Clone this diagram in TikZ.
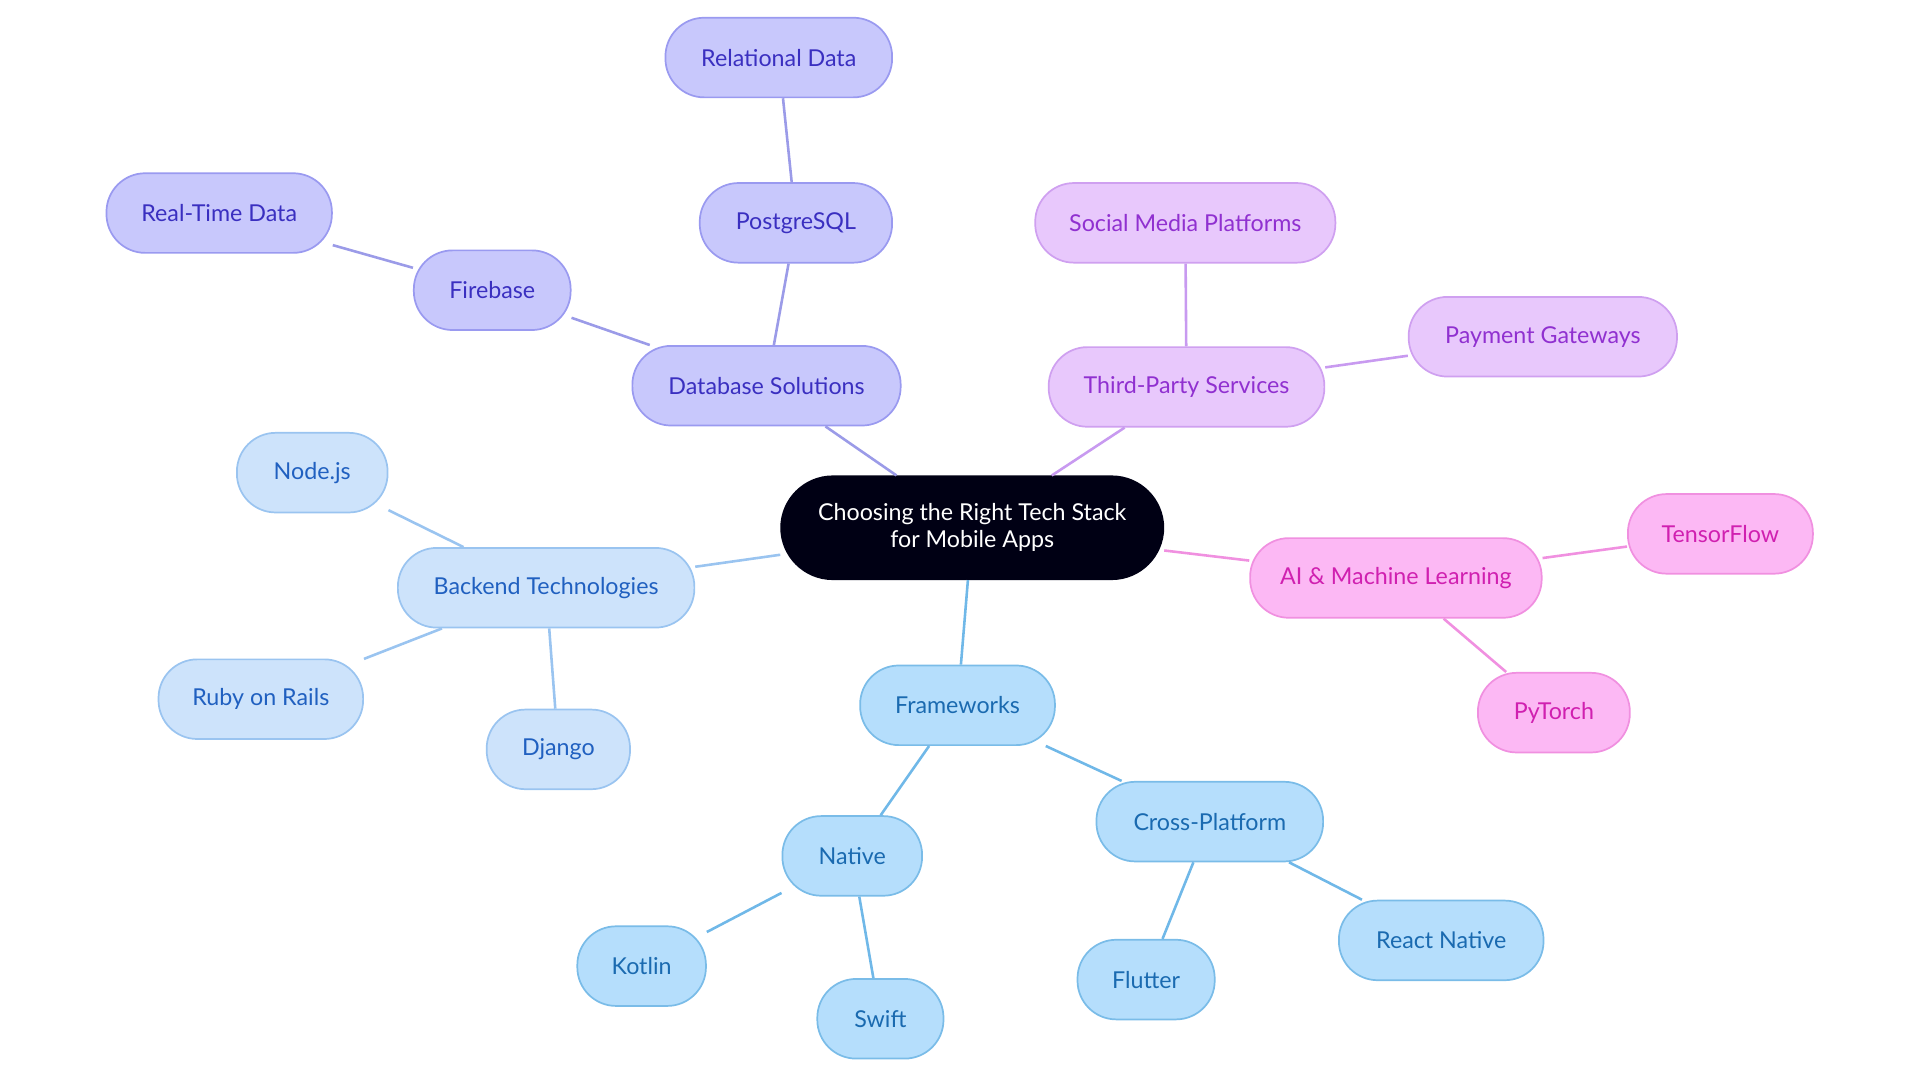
\documentclass[tikz,border=0pt]{standalone}
\usepackage{fontspec}
\setmainfont{Lato}
\begin{document}
\begin{tikzpicture}[x=0.01cm,y=-0.01cm,
  box/.style={rounded corners=9pt,minimum height=0.65cm,inner sep=0pt,font=\fontsize{5.4}{6.2}\selectfont,line width=0.4pt,align=center},
  db/.style={box,fill=dbF,draw=dbD,text=dbT},
  tp/.style={box,fill=tpF,draw=tpD,text=tpT},
  ai/.style={box,fill=aiF,draw=aiD,text=aiT},
  be/.style={box,fill=beF,draw=beD,text=beT},
  fw/.style={box,fill=fwF,draw=fwD,text=fwT},
  ln/.style={line width=0.6pt}]
\definecolor{dbF}{HTML}{C8C8FC}\definecolor{dbD}{HTML}{9A9AF0}\definecolor{dbT}{HTML}{3A2FC0}\definecolor{dbL}{HTML}{9B9BE8}
\definecolor{tpF}{HTML}{E8C8FC}\definecolor{tpD}{HTML}{CFA0F0}\definecolor{tpT}{HTML}{9030D0}\definecolor{tpL}{HTML}{C89AF0}
\definecolor{aiF}{HTML}{FCB8F4}\definecolor{aiD}{HTML}{F090E0}\definecolor{aiT}{HTML}{D020B0}\definecolor{aiL}{HTML}{F090E0}
\definecolor{beF}{HTML}{CDE3FB}\definecolor{beD}{HTML}{9AC4F0}\definecolor{beT}{HTML}{2060C0}\definecolor{beL}{HTML}{9AC4F0}
\definecolor{fwF}{HTML}{B5DEFC}\definecolor{fwD}{HTML}{7ABCE8}\definecolor{fwT}{HTML}{1A6AB0}\definecolor{fwL}{HTML}{70B8E8}
\useasboundingbox (0,0) rectangle (1568,884.4);
\node[box,fill=black!92!blue,draw=black!92!blue,text=white,minimum width=3.12cm,minimum height=0.84cm,rounded corners=12pt] (c) at (794,431) {Choosing the Right Tech Stack\\for Mobile Apps};
\node[db,minimum width=2.19cm] (db) at (626,315) {Database Solutions};
\node[db,minimum width=1.57cm] (pg) at (650,182) {PostgreSQL};
\node[db,minimum width=1.85cm] (rd) at (636,47) {Relational Data};
\node[db,minimum width=1.28cm] (fb) at (402,237) {Firebase};
\node[db,minimum width=1.84cm] (rt) at (179,174) {Real-Time Data};
\node[tp,minimum width=2.25cm] (tp) at (969,316) {Third-Party Services};
\node[tp,minimum width=2.45cm] (sm) at (968,182) {Social Media Platforms};
\node[tp,minimum width=2.19cm] (pay) at (1260,275) {Payment Gateways};
\node[ai,minimum width=2.38cm] (ai) at (1140,472) {AI \& Machine Learning};
\node[ai,minimum width=1.51cm] (tf) at (1405,436) {TensorFlow};
\node[ai,minimum width=1.24cm] (pt) at (1269,582) {PyTorch};
\node[be,minimum width=2.42cm] (be) at (446,480) {Backend Technologies};
\node[be,minimum width=1.23cm] (nj) at (255,386) {Node.js};
\node[be,minimum width=1.67cm] (rr) at (213,571) {Ruby on Rails};
\node[be,minimum width=1.17cm] (dj) at (456,612) {Django};
\node[fw,minimum width=1.59cm] (fw) at (782,576) {Frameworks};
\node[fw,minimum width=1.14cm] (na) at (696,699) {Native};
\node[fw,minimum width=1.05cm] (ko) at (524,789) {Kotlin};
\node[fw,minimum width=1.03cm] (sw) at (719,832) {Swift};
\node[fw,minimum width=1.85cm] (cp) at (988,671) {Cross-Platform};
\node[fw,minimum width=1.12cm] (fl) at (936,800) {Flutter};
\node[fw,minimum width=1.67cm] (rn) at (1177,768) {React Native};
\draw[ln,dbL] (c)--(db) (db)--(pg) (pg)--(rd) (db)--(fb) (fb)--(rt);
\draw[ln,tpL] (c)--(tp) (tp)--(sm) (tp)--(pay);
\draw[ln,aiL] (c)--(ai) (ai)--(tf) (ai)--(pt);
\draw[ln,beL] (c)--(be) (be)--(nj) (be)--(rr) (be)--(dj);
\draw[ln,fwL] (c)--(fw) (fw)--(na) (na)--(ko) (na)--(sw) (fw)--(cp) (cp)--(fl) (cp)--(rn);
\end{tikzpicture}
\end{document}
